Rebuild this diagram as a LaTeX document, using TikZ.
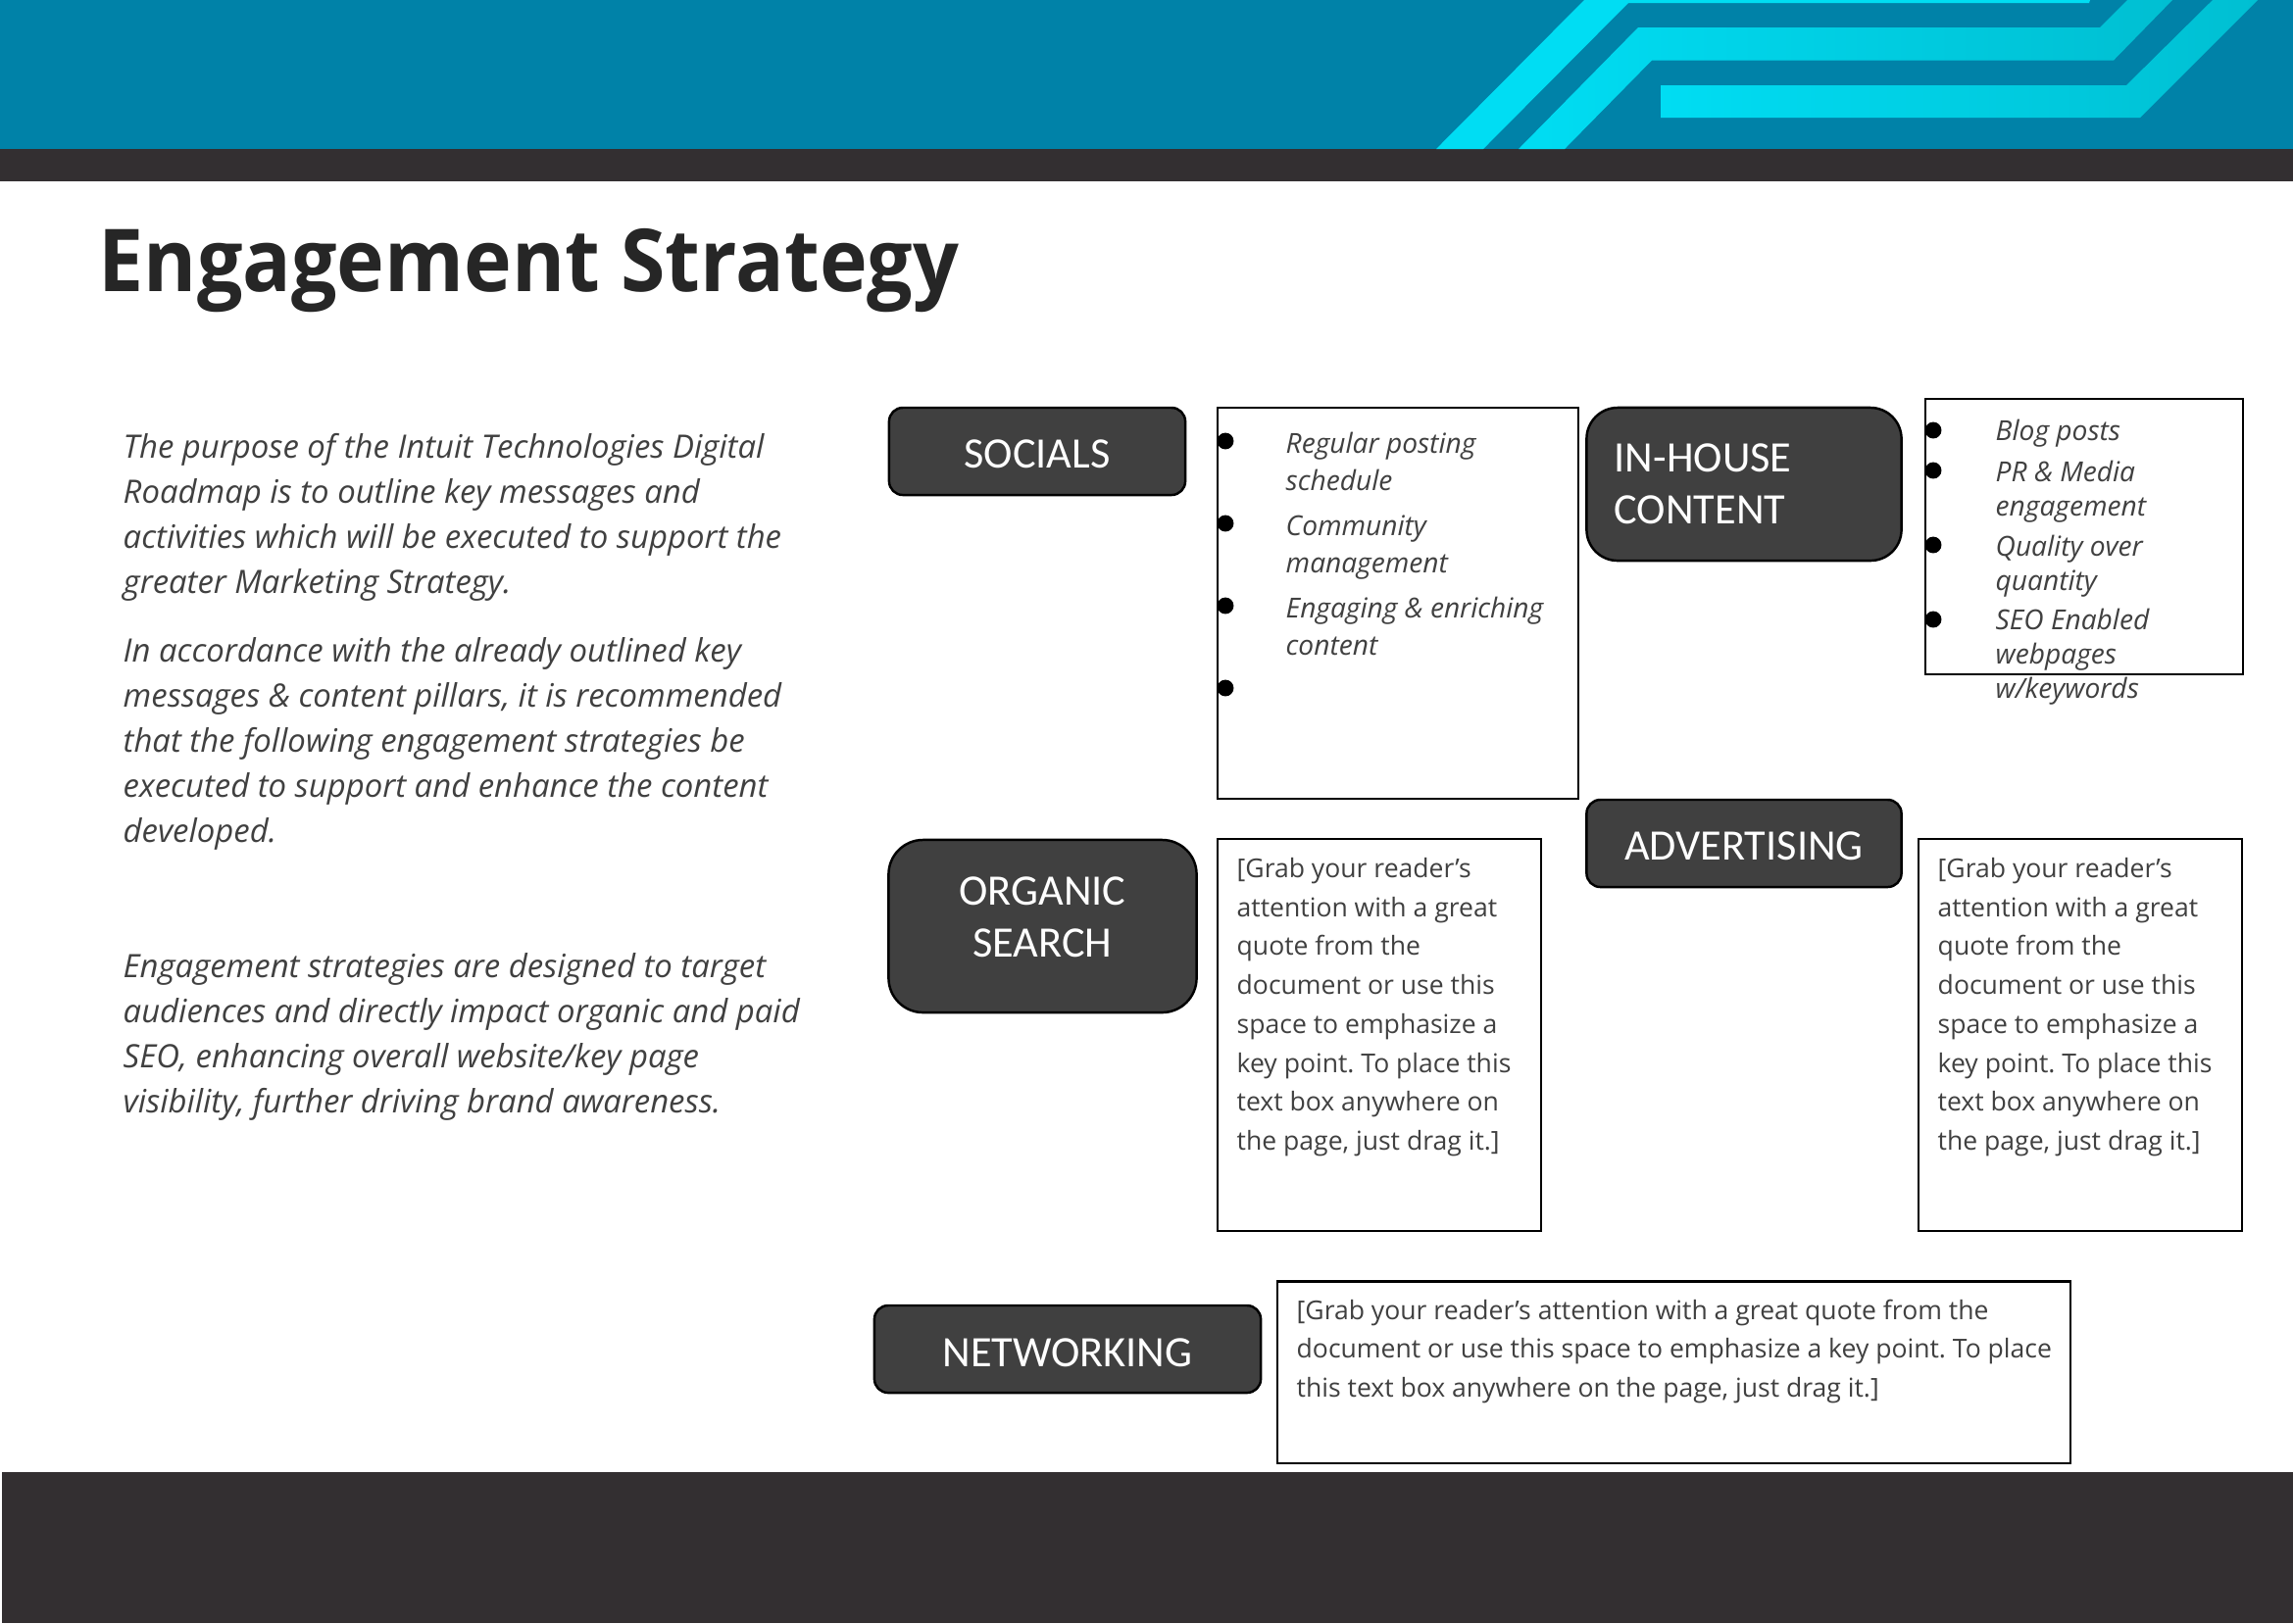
\documentclass[tikz,border=0pt]{standalone}
\usepackage{xcolor}
\usepackage{fontspec}
\setmainfont{Open Sans}
\newfontfamily\boxfont{Carlito}
\newfontfamily\titlefont[FakeStretch=0.93]{Open Sans}
\usetikzlibrary{positioning}
\definecolor{teal band}{HTML}{0082A8}
\definecolor{bright stripe}{HTML}{00DDF3}
\definecolor{dull stripe}{HTML}{00BFD2}
\definecolor{dark band}{HTML}{332F31}
\definecolor{heading}{HTML}{262626}
\definecolor{body text}{HTML}{404040}
\definecolor{tag fill}{HTML}{404040}
\tikzset{
band/.style = { draw = none, fill = #1 },
stripe/.style = { draw = none, left color = bright stripe, middle color = bright stripe, right color = dull stripe },
tag/.style = { rectangle, draw = black, line width = 0.7pt, fill = tag fill, inner sep = 0pt },
tag text/.style = { inner sep = 0pt, align = #1, text = white, font = \boxfont\fontsize{12.6}{15}\selectfont },
textbox/.style = { rectangle, draw = black, line width = 0.6pt, fill = white, inner sep = 0pt },
para/.style = { anchor = north west, inner sep = 0pt, align = left, text = body text, font = \fontsize{9.35}{13.05}\selectfont\itshape },
quote/.style = { anchor = north west, inner sep = 0pt, align = left, text = body text, font = \frenchspacing\fontsize{7.55}{11.3}\selectfont },
item/.style = { anchor = west, inner sep = 0pt, align = left, text = body text, font = \fontsize{8}{#1}\selectfont\itshape },
dot/.style = { circle, fill = black, draw = none, minimum size = 4.8pt, inner sep = 0pt },
}
\begin{document}
\begin{tikzpicture}[x=0.01cm, y=-0.01cm]
    \useasboundingbox (0,0) rectangle (2339,1656);
    % header and footer
    \path[band = teal band] (0,0) rectangle (2339,152);
    \path[band = dark band] (0,152) rectangle (2339,185);
    \path[band = dark band] (2,1502) rectangle (2339,1656);
    \path[band = bright stripe] (1465,152) -- (1616,0) -- (2132,0) -- (2131,3) -- (1661,3) -- (1513,152) -- cycle;
    \path[stripe] (1549,152) -- (1671,28) -- (2142,28) -- (2170,0) -- (2216,0) -- (2156,61.5) -- (1685,61.5) -- (1596,152) -- cycle;
    \path[stripe] (1694,87) -- (2169,87) -- (2257,0) -- (2303,0) -- (2183,120) -- (1694,120) -- cycle;
    \node[anchor=base west, inner sep=0pt, text=heading, font=\titlefont\fontsize{25.2}{30}\selectfont\bfseries] (title) at (100,297) {Engagement Strategy};
    % left column
    \node[para] (purpose) at (125,442) {The purpose of the Intuit Technologies Digital\\Roadmap is to outline key messages and\\activities which will be executed to support the\\greater Marketing Strategy.};
    \node[para] (accordance) at (125,650) {In accordance with the already outlined key\\messages \& content pillars, it is recommended\\that the following engagement strategies be\\executed to support and enhance the content\\developed.};
    \node[para] (designed) at (125,972) {Engagement strategies are designed to target\\audiences and directly impact organic and paid\\SEO, enhancing overall website/key page\\visibility, further driving brand awareness.};
    % tags
    \node[tag, minimum width=3.02cm, minimum height=0.89cm, rounded corners=4pt] (socials) at (1058,460.5) {};
    \node[tag text=center] (socials text) at (1058,463) {SOCIALS};
    \node[tag, minimum width=3.21cm, minimum height=1.56cm, rounded corners=9pt] (inhouse) at (1779,494) {};
    \node[tag text=left, anchor=west] (inhouse text) at (1646,494) {IN-HOUSE\\CONTENT};
    \node[tag, minimum width=3.14cm, minimum height=1.76cm, rounded corners=10pt] (organic) at (1063.5,945) {};
    \node[tag text=center] (organic text) at (1063.5,936) {ORGANIC\\SEARCH};
    \node[tag, minimum width=3.21cm, minimum height=0.89cm, rounded corners=4pt] (advertising) at (1779,860.5) {};
    \node[tag text=center] (advertising text) at (1779,863.5) {ADVERTISING};
    \node[tag, minimum width=3.94cm, minimum height=0.89cm, rounded corners=4pt] (networking) at (1089,1376.5) {};
    \node[tag text=center] (networking text) at (1089,1380) {NETWORKING};
    % text boxes
    \node[textbox, minimum width=3.68cm, minimum height=3.99cm] (socials box) at (1426,615.5) {};
    \node[textbox, minimum width=3.23cm, minimum height=2.81cm] (inhouse box) at (2126,547.5) {};
    \node[textbox, minimum width=3.30cm, minimum height=3.99cm] (organic box) at (1407,1056) {};
    \node[textbox, minimum width=3.30cm, minimum height=3.99cm] (advertising box) at (2122,1056) {};
    \node[textbox, minimum width=8.09cm, minimum height=1.85cm] (networking box) at (1707.5,1400) {};
    \node[dot] (d1) at (1250,450) {};
    \node[dot] (d2) at (1250,534) {};
    \node[dot] (d3) at (1250,618) {};
    \node[dot] (d4) at (1250,702) {};
    \node[item=10.8] (s1) at (1311,471) {Regular posting\\schedule};
    \node[item=10.8] (s2) at (1311,558.5) {Community\\management};
    \node[item=10.8] (s3) at (1311,639) {Engaging \& enriching\\content};
    \node[dot] (d5) at (1972,439) {};
    \node[dot] (d6) at (1972,480) {};
    \node[dot] (d7) at (1972,556) {};
    \node[dot] (d8) at (1972,632) {};
    \node[item=9.9] (h1) at (2035,442) {Blog posts};
    \node[item=9.9] (h2) at (2035,502) {PR \& Media\\engagement};
    \node[item=9.9] (h3) at (2035,578) {Quality over\\quantity};
    \node[item=9.9] (h4) at (2035,670) {SEO Enabled\\webpages\\w/keywords};
    \node[quote] (organic quote) at (1261,874.5) {[Grab your reader’s\\attention with a great\\quote from the\\document or use this\\space to emphasize a\\key point. To place this\\text box anywhere on\\the page, just drag it.]};
    \node[quote] (advertising quote) at (1976,874.5) {[Grab your reader’s\\attention with a great\\quote from the\\document or use this\\space to emphasize a\\key point. To place this\\text box anywhere on\\the page, just drag it.]};
    \node[quote] (networking quote) at (1322,1325) {[Grab your reader’s attention with a great quote from the\\document or use this space to emphasize a key point. To place\\this text box anywhere on the page, just drag it.]};
\end{tikzpicture}
\end{document}
